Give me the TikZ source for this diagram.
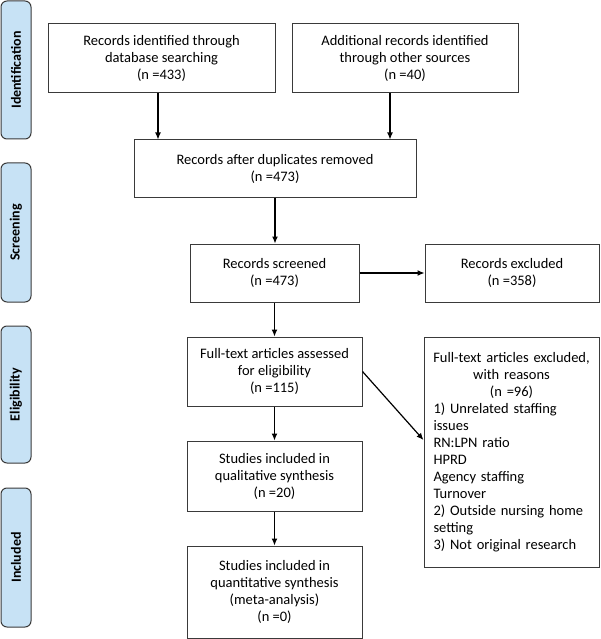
\documentclass[tikz,border=0pt]{standalone}
\usepackage{fontspec}
\setmainfont{Carlito}
\usetikzlibrary{arrows.meta}
\definecolor{phasefill}{HTML}{C7E2F5}
\definecolor{edgegray}{HTML}{3A3A3A}
\tikzset{
  box/.style={draw=edgegray, line width=1pt, align=center, inner sep=0pt,
    font=\fontsize{14.5}{17}\selectfont},
  phase/.style={draw=edgegray, line width=1pt, fill=phasefill, rounded corners=6pt,
    minimum width=30pt, inner sep=0pt, font=\fontsize{14}{16}\selectfont\bfseries},
  >={Latex[length=7pt,width=6pt]}
}

\begin{document}
\begin{tikzpicture}[x=1pt, y=-1pt]
            \useasboundingbox (0, 0) rectangle (600, 639);
            %phases
            \node[phase, minimum height=138pt] (ident) at (16, 70) {\rotatebox{90}{Identification}};
            \node[phase, minimum height=139pt] (screen) at (16, 232.5) {\rotatebox{90}{Screening}};
            \node[phase, minimum height=137pt] (elig) at (16, 394.5) {\rotatebox{90}{Eligibility}};
            \node[phase, minimum height=139pt] (incl) at (16, 557.5) {\rotatebox{90}{Included}};
            %boxes
            \node[box, minimum width=227pt, minimum height=69pt] (dbase) at (161.5, 58.5)
                {Records identified through\\ database searching\\ (n =433)};
            \node[box, minimum width=226pt, minimum height=69pt] (other) at (405, 58.5)
                {Additional records identified\\ through other sources\\ (n =40)};
            \node[box, minimum width=282pt, minimum height=57pt] (dupl) at (275, 168.5)
                {Records after duplicates removed\\ (n =473)};
            \node[box, minimum width=169pt, minimum height=58pt] (screened) at (274.5, 273)
                {Records screened\\ (n =473)};
            \node[box, minimum width=174pt, minimum height=58pt] (excl) at (512, 273)
                {Records excluded\\ (n =358)};
            \node[box, minimum width=175pt, minimum height=69pt] (fulltext) at (274.5, 371.5)
                {Full-text articles assessed\\ for eligibility\\ (n =115)};
            \node[box, minimum width=175pt, minimum height=230pt, text width=156pt, align=left] (ftexcl) at (511.5, 452)
                {{\centering \makebox[0pt]{Full-text articles excluded,}\\ with reasons\\ (n =96)\par}
                 1) Unrelated staffing\\ issues\\ RN:LPN ratio\\ HPRD\\ Agency staffing\\ Turnover\\
                 2) Outside nursing home\\ setting\\ 3) Not original research};
            \node[box, minimum width=175pt, minimum height=70pt] (qual) at (274.5, 476)
                {Studies included in\\ qualitative synthesis\\ (n =20)};
            \node[box, minimum width=175pt, minimum height=92pt] (quant) at (274.5, 592)
                {Studies included in\\ quantitative synthesis\\ (meta-analysis)\\ (n =0)};
            %arrows
            \draw[->, line width=1.2pt] ([xshift=-3.5pt]dbase.south) -- ([xshift=-3.5pt]dbase.south |- dupl.north);
            \draw[->, line width=1.2pt] ([xshift=-15pt]other.south) -- ([xshift=-15pt]other.south |- dupl.north);
            \draw[->, line width=1.2pt] (dupl.south) -- (dupl.south |- screened.north);
            \draw[->, line width=1.2pt] (screened.east) -- (excl.west);
            \draw[->, line width=1.2pt] (screened.south) -- (fulltext.north);
            \draw[->, line width=1.2pt] (fulltext.east) -- ([yshift=12pt]ftexcl.west);
            \draw[->, line width=1.2pt] (fulltext.south) -- (qual.north);
            \draw[->, line width=1.2pt] (qual.south) -- (quant.north);
        \end{tikzpicture}
\end{document}
